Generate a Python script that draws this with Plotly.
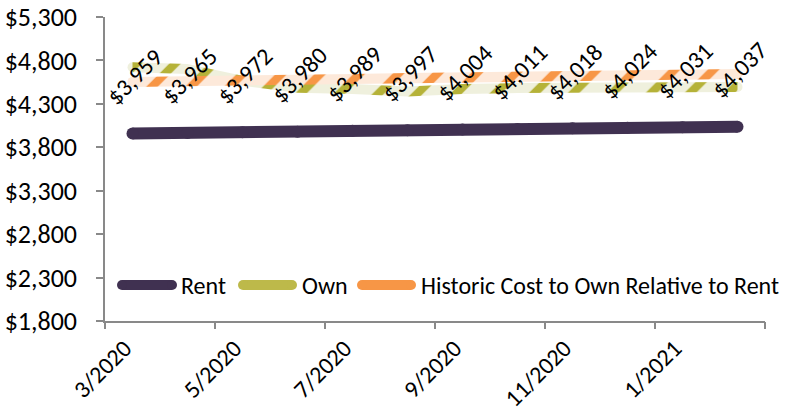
import plotly.graph_objects as go

# Monthly housing cost series, 3/2020 - 2/2021
months = ["3/2020", "4/2020", "5/2020", "6/2020", "7/2020", "8/2020",
          "9/2020", "10/2020", "11/2020", "12/2020", "1/2021", "2/2021"]
rent = [3959, 3965, 3972, 3980, 3989, 3997, 4004, 4011, 4018, 4024, 4031, 4037]
own = [4722, 4700, 4565, 4485, 4472, 4442, 4470, 4482, 4485, 4488, 4492, 4494]
historic = [4553, 4560, 4568, 4577, 4587, 4597, 4605, 4613, 4621, 4628, 4636, 4643]

tick_months = ["3/2020", "5/2020", "7/2020", "9/2020", "11/2020", "1/2021"]
y_ticks = [1800, 2300, 2800, 3300, 3800, 4300, 4800, 5300]

FONT = "Carlito, Lato, sans-serif"
AXIS_GREY = "#898989"
RENT_C = "#403151"
OWN_C = "#BDB94A"
OWN_STRIPE = "#B5B238"
OWN_PALE = "#EFF0DD"
HIST_C = "#F79646"
HIST_PALE = "#FDE9DA"

W, H = 791, 411
L, R, T, B = 105, 26, 17, 90
PW, PH = W - L - R, H - T - B
Y0, Y1 = 1800, 5300
PER_PX = (Y1 - Y0) / PH          # dollars per vertical pixel
HALF_BAND = 5 * PER_PX           # half thickness of the patterned bands

xi = list(range(len(months)))

fig = go.Figure()

# Rent: thick solid line with round ends
fig.add_trace(go.Scatter(
    x=xi, y=rent, mode="lines+markers",
    line=dict(color=RENT_C, width=12),
    marker=dict(color=RENT_C, size=12, line=dict(width=0)),
    hoverinfo="skip", showlegend=False))


def striped_band(values, fg, bg):
    """Patterned ribbon following a series, with rounded ends."""
    upper = [v + HALF_BAND for v in values]
    lower = [v - HALF_BAND for v in values]
    fig.add_trace(go.Scatter(
        x=[xi[0], xi[-1]], y=[values[0], values[-1]], mode="markers",
        marker=dict(color=bg, size=10, line=dict(width=0)),
        hoverinfo="skip", showlegend=False))
    fig.add_trace(go.Scatter(
        x=xi + xi[::-1], y=upper + lower[::-1], mode="lines",
        fill="toself", line=dict(width=0, color=bg),
        fillcolor=bg,
        fillpattern=dict(shape="/", fgcolor=fg, bgcolor=bg, fgopacity=1,
                         size=27.5, solidity=0.3),
        hoverinfo="skip", showlegend=False))


striped_band(own, OWN_STRIPE, OWN_PALE)
striped_band(historic, HIST_C, HIST_PALE)

# Rent value labels
annotations = []
for i, v in zip(xi, rent):
    annotations.append(dict(
        x=i, y=v, xref="x", yref="y", text=f"${v:,}",
        showarrow=False, textangle=-45, xshift=2, yshift=57,
        font=dict(family=FONT, size=24, color="#000000")))


def px_x(px):
    return (px - L) / PW


def px_y(py):
    return (T + PH - py) / PH


# Legend drawn inside the plot area
shapes = []
legend_items = [("Rent", RENT_C, 122, 172, 179),
                ("Own", OWN_C, 243, 292, 300),
                ("Historic Cost to Own Relative to Rent", HIST_C, 362, 411, 419)]
LEG_Y = 285
for name, col, x0, x1, tx in legend_items:
    shapes.append(dict(type="line", xref="paper", yref="paper",
                       x0=px_x(x0), x1=px_x(x1), y0=px_y(LEG_Y), y1=px_y(LEG_Y),
                       line=dict(color=col, width=10)))
    for cx in (x0, x1):
        shapes.append(dict(type="circle", xref="paper", yref="paper",
                           xsizemode="pixel", ysizemode="pixel",
                           xanchor=px_x(cx), yanchor=px_y(LEG_Y),
                           x0=-5, x1=5, y0=-5, y1=5,
                           fillcolor=col, line=dict(width=0)))
    annotations.append(dict(
        x=px_x(tx), y=px_y(LEG_Y), xref="paper", yref="paper",
        xanchor="left", yanchor="middle", text=name, showarrow=False,
        font=dict(family=FONT, size=24, color="#000000")))

fig.update_layout(
    width=W, height=H, autosize=False,
    margin=dict(l=L, r=R, t=T, b=B, pad=0),
    paper_bgcolor="white", plot_bgcolor="white",
    font=dict(family=FONT, size=24, color="#000000"),
    showlegend=False,
    shapes=shapes, annotations=annotations,
    xaxis=dict(
        range=[-0.5, len(months) - 0.5],
        tickmode="array",
        tickvals=[months.index(m) for m in tick_months],
        ticktext=tick_months, tickangle=-45,
        ticks="", showgrid=False, zeroline=False, automargin=False,
        showline=True, linecolor=AXIS_GREY, linewidth=1.5,
        ticklabelstandoff=2, ticklabelshift=-8,
        tickfont=dict(family=FONT, size=24, color="#000000")),
    xaxis2=dict(
        overlaying="x", anchor="y", side="bottom",
        range=[-0.5, len(months) - 0.5],
        tickmode="array",
        tickvals=[i - 0.5 for i in range(0, len(months) + 1, 2)],
        ticks="outside", ticklen=7, tickwidth=1.5, tickcolor=AXIS_GREY,
        showticklabels=False, showgrid=False, zeroline=False,
        showline=False, automargin=False),
    yaxis=dict(
        range=[Y0, Y1], tickmode="array", tickvals=y_ticks,
        tickformat="$,", ticks="outside", ticklen=7, tickwidth=1.5,
        tickcolor=AXIS_GREY, showgrid=False, zeroline=False,
        showline=True, linecolor=AXIS_GREY, linewidth=1.5,
        ticklabelstandoff=14, automargin=False,
        tickfont=dict(family=FONT, size=26, color="#000000")),
)

# invisible anchor trace so the secondary x axis is rendered
fig.add_trace(go.Scatter(x=[0], y=[rent[0]], xaxis="x2", mode="markers",
                         marker=dict(opacity=0), hoverinfo="skip",
                         showlegend=False))

fig.write_html("out.html")
